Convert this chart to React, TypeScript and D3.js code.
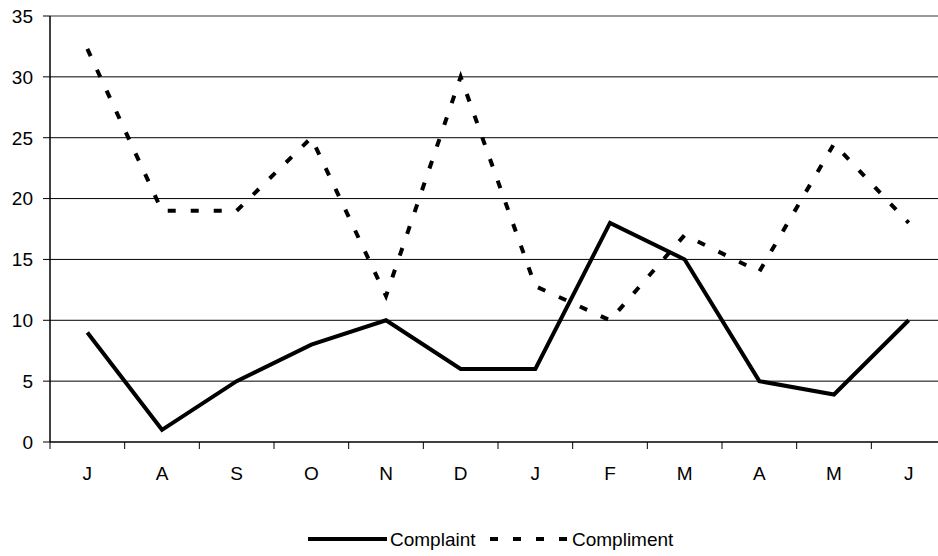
import React from "react";
import * as d3 from "d3";

const months = ["J", "A", "S", "O", "N", "D", "J", "F", "M", "A", "M", "J"];
const complaint = [9, 1, 5, 8, 10, 6, 6, 18, 15, 5, 3.9, 10];
const compliment = [32.3, 19, 19, 25, 12, 30, 12.8, 10, 17, 14, 24.5, 18];
const yTicks = [0, 5, 10, 15, 20, 25, 30, 35];

const W = 938;
const H = 556;
const left = 50;
const right = 946;
const top = 16;
const bottom = 442;
const FS = 19;

export default function App() {
  const idx = months.map((_, i) => i);
  const x = d3.scaleBand<number>().domain(idx).range([left, right]);
  const y = d3.scaleLinear().domain([0, 35]).range([bottom, top]);
  const cx = (i: number) => (x(i) as number) + x.bandwidth() / 2;
  const line = d3
    .line<number>()
    .x((_, i) => cx(i))
    .y((v) => y(v));
  const font = "Liberation Sans, Arial, sans-serif";
  return (
    <svg
      width={W}
      height={H}
      style={{ position: "absolute", left: 0, top: 0, background: "#fff" }}
      fontFamily={font}
    >
      <rect x={0} y={0} width={W} height={H} fill="#fff" />
      {yTicks.map((t) => (
        <g key={t}>
          {t > 0 && (
            <line
              x1={left}
              x2={right}
              y1={y(t)}
              y2={y(t)}
              stroke={t === 35 ? "#999" : "#000"}
              strokeWidth={t === 35 ? 2 : 1}
            />
          )}
          <line x1={left - 7} x2={left} y1={y(t)} y2={y(t)} stroke="#000" />
          <text
            x={33}
            y={y(t)}
            dy="0.36em"
            textAnchor="end"
            fontSize={FS}
            fill="#000"
          >
            {t}
          </text>
        </g>
      ))}
      <line x1={left} x2={left} y1={top} y2={bottom} stroke="#000" strokeWidth={1.5} />
      <line x1={left} x2={right} y1={bottom} y2={bottom} stroke="#000" strokeWidth={1.5} />
      {idx.map((i) => (
        <line
          key={"t" + i}
          x1={x(i) as number}
          x2={x(i) as number}
          y1={bottom}
          y2={bottom + 7}
          stroke="#000"
        />
      ))}
      {months.map((m, i) => (
        <text
          key={"m" + i}
          x={cx(i)}
          y={480}
          textAnchor="middle"
          fontSize={FS}
          fill="#000"
        >
          {m}
        </text>
      ))}
      <path
        d={line(compliment) || ""}
        fill="none"
        stroke="#000"
        strokeWidth={4}
        strokeDasharray="8 15"
      />
      <path
        d={line(complaint) || ""}
        fill="none"
        stroke="#000"
        strokeWidth={4}
        strokeLinejoin="miter"
      />
      <line x1={308} x2={387} y1={539} y2={539} stroke="#000" strokeWidth={4} />
      <text x={390} y={539} dy="0.36em" fontSize={FS} fill="#000">
        Complaint
      </text>
      <line
        x1={490}
        x2={568}
        y1={539}
        y2={539}
        stroke="#000"
        strokeWidth={4}
        strokeDasharray="8 15"
      />
      <text x={572} y={539} dy="0.36em" fontSize={FS} fill="#000">
        Compliment
      </text>
    </svg>
  );
}
